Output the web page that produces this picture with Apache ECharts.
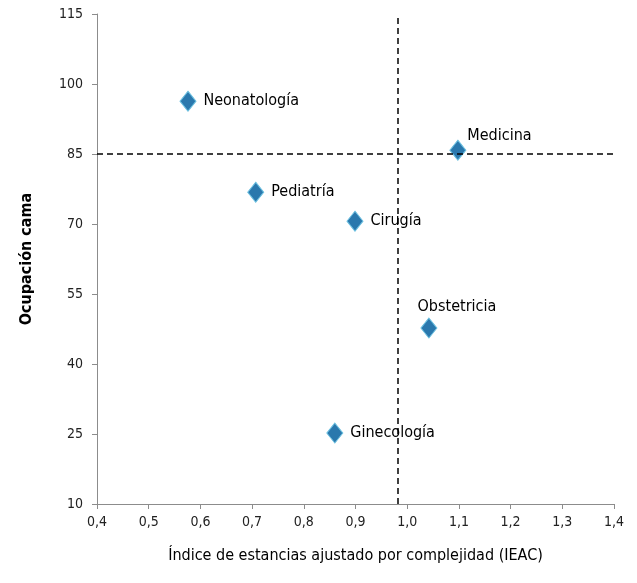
<!DOCTYPE html>
<html>
<head>
<meta charset="utf-8">
<script src="https://cdn.jsdelivr.net/npm/echarts@6/dist/echarts.min.js"></script>
<style>
html, body { margin: 0; padding: 0; background: #fff; }
#chart { width: 637px; height: 583px; }
</style>
</head>
<body>
<div id="chart"></div>
<script>
// servicios: IEAC vs ocupacion de camas
var servicios = ['Neonatología', 'Medicina', 'Pediatría', 'Cirugía', 'Obstetricia', 'Ginecología'];
var ieac = [0.576, 1.098, 0.707, 0.899, 1.042, 0.860];
var ocupacion = [96.3, 85.8, 76.8, 70.6, 47.7, 25.2];
var refIeac = 0.982;
var refOcupacion = 85;

var font = "'Liberation Sans Narrow', 'DejaVu Sans Condensed', sans-serif";
var labelPos = ['right', 'right', 'right', 'right', 'top', 'right'];
var labelOffset = [[0, 0], [-6, -14], [0, 0], [0, 0], [28, 4], [0, 0]];

var points = [];
for (var i = 0; i < servicios.length; i++) {
    points.push({
        name: servicios[i],
        value: [ieac[i], ocupacion[i]],
        label: {
            position: labelPos[i],
            offset: labelOffset[i]
        }
    });
}

var myChart = echarts.init(document.getElementById('chart'));
var option = {
    animation: false,
    grid: { left: 97, right: 23, top: 14, bottom: 79 },
    xAxis: {
        type: 'value',
        min: 0.4,
        max: 1.4,
        interval: 0.1,
        name: 'Índice de estancias ajustado por complejidad (IEAC)',
        nameLocation: 'middle',
        nameGap: 44,
        nameTextStyle: { fontFamily: font, fontSize: 16, color: '#000' },
        axisLine: { lineStyle: { color: '#8c8c8c' } },
        axisTick: { lineStyle: { color: '#8c8c8c' }, length: 5 },
        axisLabel: {
            fontFamily: font, fontSize: 14, color: '#222', margin: 11,
            formatter: function (v) { return v.toFixed(1).replace('.', ','); }
        },
        splitLine: { show: false }
    },
    yAxis: {
        type: 'value',
        min: 10,
        max: 115,
        interval: 15,
        name: 'Ocupación cama',
        nameLocation: 'middle',
        nameGap: 62,
        nameRotate: 90,
        nameTextStyle: { fontFamily: font, fontSize: 16, fontWeight: 'bold', color: '#000' },
        axisLine: { show: true, lineStyle: { color: '#8c8c8c' } },
        axisTick: { show: true, lineStyle: { color: '#8c8c8c' }, length: 5 },
        axisLabel: { fontFamily: font, fontSize: 14, color: '#222', margin: 14 },
        splitLine: { show: false }
    },
    series: [{
        type: 'scatter',
        symbol: 'diamond',
        symbolSize: [16, 20],
        itemStyle: { color: '#2a78ad', borderColor: '#6cc0e0', borderWidth: 1, opacity: 1 },
        label: {
            show: true,
            formatter: '{b}',
            fontFamily: font,
            fontSize: 16,
            color: '#000',
            distance: 7
        },
        data: points,
        markLine: {
            silent: true,
            symbol: 'none',
            label: { show: false },
            lineStyle: { color: '#000', type: [6, 4], width: 1.5 },
            data: [
                [{ coord: [refIeac, 10] }, { coord: [refIeac, 115] }],
                [{ coord: [0.4, refOcupacion] }, { coord: [1.4, refOcupacion] }]
            ]
        }
    }]
};
myChart.setOption(option);
</script>
</body>
</html>
